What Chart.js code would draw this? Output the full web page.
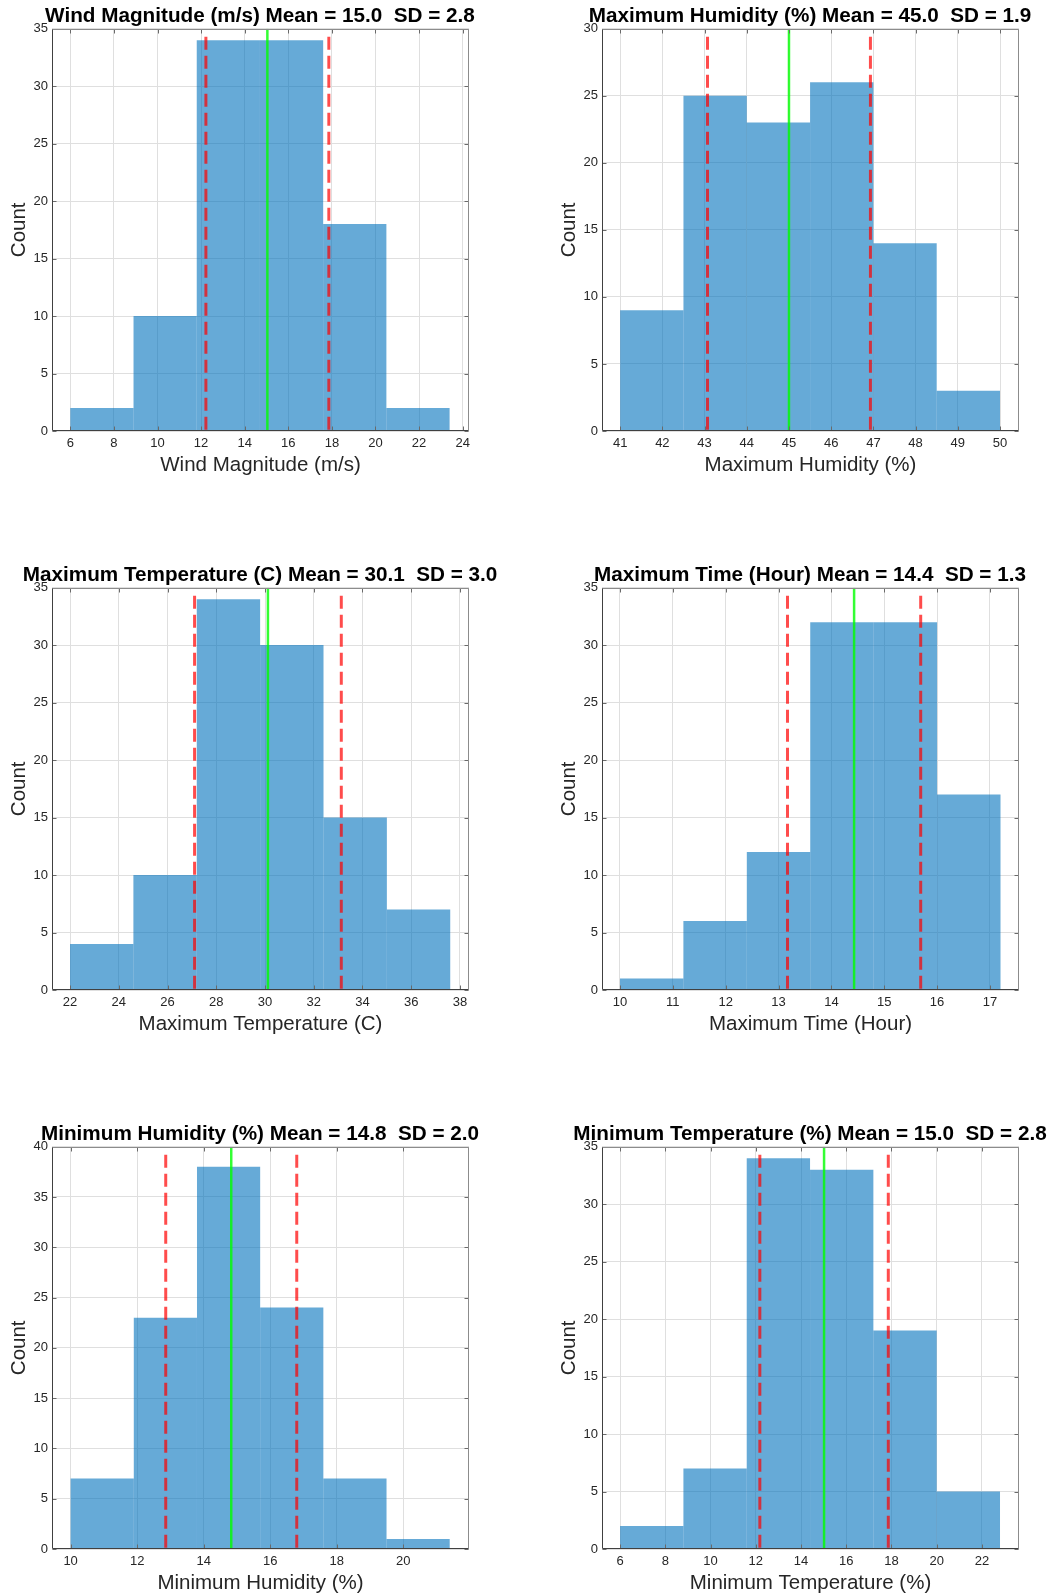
<!DOCTYPE html>
<html>
<head>
<meta charset="utf-8">
<script src="https://cdn.jsdelivr.net/npm/chart.js@4.4.0/dist/chart.umd.min.js"></script>
<style>
  html, body { margin: 0; padding: 0; background: #fff; overflow: hidden; width: 1054px; height: 1595px; }
  canvas { position: absolute; }
</style>
</head>
<body>
<canvas id="graph_wind" width="520" height="478" style="left:0px;top:0px"></canvas>
<canvas id="graph_hummax" width="520" height="478" style="left:550px;top:0px"></canvas>
<canvas id="graph_tempmax" width="520" height="478" style="left:0px;top:559px"></canvas>
<canvas id="graph_timemax" width="520" height="478" style="left:550px;top:559px"></canvas>
<canvas id="graph_hummin" width="520" height="478" style="left:0px;top:1118px"></canvas>
<canvas id="graph_tempmin" width="520" height="478" style="left:550px;top:1118px"></canvas>
<script>
/*------------------------------*/
/*            DATA              */
/*------------------------------*/
var windEdges = [6, 8.9, 11.8, 14.7, 17.6, 20.5, 23.4]
var windCounts = [2, 10, 34, 34, 18, 2]
var windTicks = [6, 8, 10, 12, 14, 16, 18, 20, 22, 24]

var humMaxEdges = [41, 42.5, 44, 45.5, 47, 48.5, 50]
var humMaxCounts = [9, 25, 23, 26, 14, 3]
var humMaxTicks = [41, 42, 43, 44, 45, 46, 47, 48, 49, 50]

var tempMaxEdges = [22, 24.6, 27.2, 29.8, 32.4, 35, 37.6]
var tempMaxCounts = [4, 10, 34, 30, 15, 7]
var tempMaxTicks = [22, 24, 26, 28, 30, 32, 34, 36, 38]

var timeMaxEdges = [10, 11.2, 12.4, 13.6, 14.8, 16, 17.2]
var timeMaxCounts = [1, 6, 12, 32, 32, 17]
var timeMaxTicks = [10, 11, 12, 13, 14, 15, 16, 17]

var humMinEdges = [10, 11.9, 13.8, 15.7, 17.6, 19.5, 21.4]
var humMinCounts = [7, 23, 38, 24, 7, 1]
var humMinTicks = [10, 12, 14, 16, 18, 20]

var tempMinEdges = [6, 8.8, 11.6, 14.4, 17.2, 20, 22.8]
var tempMinCounts = [2, 7, 34, 33, 19, 5]
var tempMinTicks = [6, 8, 10, 12, 14, 16, 18, 20, 22]

// mean and standard deviation of each panel (green line, red dashed lines)
var means = [15.04, 45.0, 30.12, 14.43, 14.83, 15.02]
var sds = [2.82, 1.93, 3.01, 1.26, 1.97, 2.84]
/*------------------------------*/

Chart.defaults.font.family = "'Liberation Sans', Arial, Helvetica, sans-serif"

var axisColor = '#262626'
var gridColor = '#dfdfdf'

// box round the plot + small inner ticks, like matlab
var boxPlugin = {
  id: 'matlabBox',
  afterDatasetsDraw: function (chart) {
    var ctx = chart.ctx
    var a = chart.chartArea
    var l = Math.round(a.left) + 0.5, r = Math.round(a.right) - 0.5
    var t = Math.round(a.top) + 0.5, b = Math.round(a.bottom) - 0.5
    ctx.save()
    ctx.lineWidth = 1
    ctx.strokeStyle = '#6a6a6a'
    ctx.beginPath()
    chart.scales.x.ticks.forEach(function (tk) {
      var px = Math.round(chart.scales.x.getPixelForValue(tk.value)) + 0.5
      ctx.moveTo(px, b); ctx.lineTo(px, b - 4)
      ctx.moveTo(px, t); ctx.lineTo(px, t + 4)
    })
    chart.scales.y.ticks.forEach(function (tk) {
      var py = Math.round(chart.scales.y.getPixelForValue(tk.value)) + 0.5
      ctx.moveTo(l, py); ctx.lineTo(l + 4, py)
      ctx.moveTo(r, py); ctx.lineTo(r - 4, py)
    })
    ctx.stroke()
    ctx.strokeStyle = '#8c8c8c'
    ctx.beginPath()
    ctx.moveTo(l, t); ctx.lineTo(r, t); ctx.lineTo(r, b)
    ctx.stroke()
    ctx.strokeStyle = '#404040'
    ctx.beginPath()
    ctx.moveTo(l, t); ctx.lineTo(l, b); ctx.lineTo(r, b)
    ctx.stroke()
    ctx.restore()
  }
}

function histogram(id, title, xLabel, edges, counts, xTicks, xMin, xMax, yMax, mean, sd) {
  var bars = counts.map(function (c, i) {
    return { x: (edges[i] + edges[i + 1]) / 2, y: c }
  })
  var redTop = 0.98 * yMax

  var config = {
    type: 'bar',
    data: {
      datasets: [{
        type: 'bar',
        data: bars,
        xAxisID: 'xb',
        yAxisID: 'y',
        backgroundColor: 'rgba(0, 114, 189, 0.6)',
        borderWidth: 0,
        inflateAmount: 0,
        grouped: false,
        barPercentage: 1,
        categoryPercentage: 1,
        order: 3
      }, {
        type: 'line',
        data: [{ x: mean - sd, y: redTop }, { x: mean - sd, y: 0 }],
        xAxisID: 'x',
        yAxisID: 'y',
        borderColor: 'rgba(255, 0, 0, 0.7)',
        borderWidth: 3,
        borderDash: [13, 6],
        pointRadius: 0,
        fill: false,
        order: 1
      }, {
        type: 'line',
        data: [{ x: mean + sd, y: redTop }, { x: mean + sd, y: 0 }],
        xAxisID: 'x',
        yAxisID: 'y',
        borderColor: 'rgba(255, 0, 0, 0.7)',
        borderWidth: 3,
        borderDash: [13, 6],
        pointRadius: 0,
        fill: false,
        order: 1
      }, {
        type: 'line',
        data: [{ x: mean, y: yMax }, { x: mean, y: 0 }],
        xAxisID: 'x',
        yAxisID: 'y',
        borderColor: 'rgba(0, 255, 0, 0.8)',
        borderWidth: 2.5,
        pointRadius: 0,
        fill: false,
        order: 0
      }]
    },
    options: {
      responsive: false,
      animation: false,
      devicePixelRatio: 1,
      layout: { padding: 0 },
      plugins: {
        legend: { display: false },
        tooltip: { enabled: false },
        title: {
          display: true,
          text: title,
          color: '#000',
          font: { size: 20.7, weight: 'bold' },
          padding: { top: 3.6, bottom: 0.2 }
        }
      },
      scales: {
        x: {
          type: 'linear',
          position: 'bottom',
          min: xMin,
          max: xMax,
          offset: false,
          afterBuildTicks: function (s) {
            s.ticks = xTicks.map(function (v) { return { value: v } })
          },
          afterFit: function (s) { s.height = 47 },
          grid: { color: gridColor, drawTicks: false, offset: false },
          border: { display: false },
          ticks: {
            color: axisColor,
            font: { size: 13 },
            padding: 5,
            autoSkip: false,
            maxRotation: 0,
            callback: function (v) { return String(v) }
          },
          title: { display: true, text: xLabel, color: axisColor, font: { size: 20.5 }, padding: 0 }
        },
        xb: {
          type: 'linear',
          display: false,
          min: xMin,
          max: xMax,
          offset: false,
          afterBuildTicks: function (s) {
            s.ticks = [{ value: xMin }, { value: xMax }]
          }
        },
        y: {
          type: 'linear',
          position: 'left',
          min: 0,
          max: yMax,
          afterFit: function (s) { s.width = 52 },
          grid: { color: gridColor, drawTicks: false },
          border: { display: false },
          ticks: { stepSize: 5, color: axisColor, font: { size: 13 }, padding: 4 },
          title: { display: true, text: 'Count', color: axisColor, font: { size: 20.5 }, padding: { top: 7.5, bottom: 0 } }
        },
        // empty right margin so the title stays centred on the plot
        yr: {
          type: 'linear',
          position: 'right',
          min: 0,
          max: yMax,
          afterFit: function (s) { s.width = 51 },
          grid: { display: false, drawOnChartArea: false },
          border: { display: false },
          ticks: { display: false }
        }
      }
    },
    plugins: [boxPlugin]
  }
  return new Chart(document.getElementById(id).getContext('2d'), config)
}

/*------------------------------*/
/*           GRAPHS             */
/*------------------------------*/
histogram('graph_wind', 'Wind Magnitude (m/s) Mean = 15.0  SD = 2.8', 'Wind Magnitude (m/s)',
  windEdges, windCounts, windTicks, 5.16, 24.29, 35, means[0], sds[0])

histogram('graph_hummax', 'Maximum Humidity (%) Mean = 45.0  SD = 1.9', 'Maximum Humidity (%)',
  humMaxEdges, humMaxCounts, humMaxTicks, 40.57, 50.45, 30, means[1], sds[1])

histogram('graph_tempmax', 'Maximum Temperature (C) Mean = 30.1  SD = 3.0', 'Maximum Temperature (C)',
  tempMaxEdges, tempMaxCounts, tempMaxTicks, 21.26, 38.37, 35, means[2], sds[2])

histogram('graph_timemax', 'Maximum Time (Hour) Mean = 14.4  SD = 1.3', 'Maximum Time (Hour)',
  timeMaxEdges, timeMaxCounts, timeMaxTicks, 9.66, 17.55, 35, means[3], sds[3])

histogram('graph_hummin', 'Minimum Humidity (%) Mean = 14.8  SD = 2.0', 'Minimum Humidity (%)',
  humMinEdges, humMinCounts, humMinTicks, 9.44, 21.98, 40, means[4], sds[4])

histogram('graph_tempmin', 'Minimum Temperature (%) Mean = 15.0  SD = 2.8', 'Minimum Temperature (%)',
  tempMinEdges, tempMinCounts, tempMinTicks, 5.2, 23.64, 35, means[5], sds[5])
</script>
</body>
</html>
